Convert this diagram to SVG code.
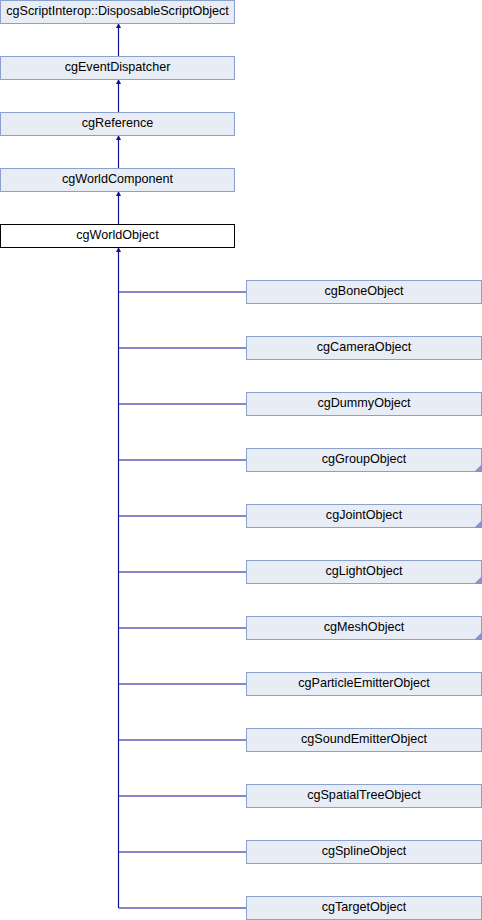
<svg xmlns="http://www.w3.org/2000/svg" width="482" height="920" viewBox="0 0 482 920">
<style>
.n{fill:#e8ecf5;stroke:#8aa0cf;stroke-width:1}
.cur{fill:#ffffff;stroke:#000000;stroke-width:1}
.t{font-family:"Liberation Sans",Arial,sans-serif;font-size:12.6px;fill:#000;text-anchor:middle}
.e{fill:none;stroke:#10109a;stroke-width:1.2}
.tri{fill:#7f98cc}
</style>
<defs>
<marker id="ah" viewBox="0 0 10 10" refX="0" refY="5" markerWidth="5" markerHeight="5" orient="auto" markerUnits="userSpaceOnUse">
<path d="M0,0 L10,5 L0,10 z" fill="#10109a"/>
</marker>
</defs>
<g id="connectors">
<path class="e" d="M118.5,56 V28" marker-end="url(#ah)"/>
<path class="e" d="M118.5,112 V84" marker-end="url(#ah)"/>
<path class="e" d="M118.5,168 V140" marker-end="url(#ah)"/>
<path class="e" d="M118.5,224 V196" marker-end="url(#ah)"/>
<path class="e" d="M118.5,908 V252" marker-end="url(#ah)"/>
<path class="e" d="M118.5,292 H246"/>
<path class="e" d="M118.5,348 H246"/>
<path class="e" d="M118.5,404 H246"/>
<path class="e" d="M118.5,460 H246"/>
<path class="e" d="M118.5,516 H246"/>
<path class="e" d="M118.5,572 H246"/>
<path class="e" d="M118.5,628 H246"/>
<path class="e" d="M118.5,684 H246"/>
<path class="e" d="M118.5,740 H246"/>
<path class="e" d="M118.5,796 H246"/>
<path class="e" d="M118.5,852 H246"/>
<path class="e" d="M118.5,908 H246"/>
</g>
<g id="n_disposable"><rect class="n" x="0.5" y="0.5" width="234" height="23"/><text class="t" x="117.5" y="15">cgScriptInterop::DisposableScriptObject</text></g>
<g id="n_eventdispatcher"><rect class="n" x="0.5" y="56.5" width="234" height="23"/><text class="t" x="117.5" y="71">cgEventDispatcher</text></g>
<g id="n_reference"><rect class="n" x="0.5" y="112.5" width="234" height="23"/><text class="t" x="117.5" y="127">cgReference</text></g>
<g id="n_worldcomponent"><rect class="n" x="0.5" y="168.5" width="234" height="23"/><text class="t" x="117.5" y="183">cgWorldComponent</text></g>
<g id="n_worldobject"><rect class="cur" x="0.5" y="224.5" width="234" height="23"/><text class="t" x="117.5" y="239">cgWorldObject</text></g>
<g id="n_bone"><rect class="n" x="246.5" y="280.5" width="235" height="23"/><text class="t" x="364" y="295">cgBoneObject</text></g>
<g id="n_camera"><rect class="n" x="246.5" y="336.5" width="235" height="23"/><text class="t" x="364" y="351">cgCameraObject</text></g>
<g id="n_dummy"><rect class="n" x="246.5" y="392.5" width="235" height="23"/><text class="t" x="364" y="407">cgDummyObject</text></g>
<g id="n_group"><rect class="n" x="246.5" y="448.5" width="235" height="23"/><polygon class="tri" points="482,464 482,472 474,472"/><text class="t" x="364" y="463">cgGroupObject</text></g>
<g id="n_joint"><rect class="n" x="246.5" y="504.5" width="235" height="23"/><polygon class="tri" points="482,520 482,528 474,528"/><text class="t" x="364" y="519">cgJointObject</text></g>
<g id="n_light"><rect class="n" x="246.5" y="560.5" width="235" height="23"/><polygon class="tri" points="482,576 482,584 474,584"/><text class="t" x="364" y="575">cgLightObject</text></g>
<g id="n_mesh"><rect class="n" x="246.5" y="616.5" width="235" height="23"/><polygon class="tri" points="482,632 482,640 474,640"/><text class="t" x="364" y="631">cgMeshObject</text></g>
<g id="n_particle"><rect class="n" x="246.5" y="672.5" width="235" height="23"/><text class="t" x="364" y="687">cgParticleEmitterObject</text></g>
<g id="n_sound"><rect class="n" x="246.5" y="728.5" width="235" height="23"/><text class="t" x="364" y="743">cgSoundEmitterObject</text></g>
<g id="n_spatial"><rect class="n" x="246.5" y="784.5" width="235" height="23"/><text class="t" x="364" y="799">cgSpatialTreeObject</text></g>
<g id="n_spline"><rect class="n" x="246.5" y="840.5" width="235" height="23"/><text class="t" x="364" y="855">cgSplineObject</text></g>
<g id="n_target"><rect class="n" x="246.5" y="896.5" width="235" height="23"/><text class="t" x="364" y="911">cgTargetObject</text></g>
</svg>
